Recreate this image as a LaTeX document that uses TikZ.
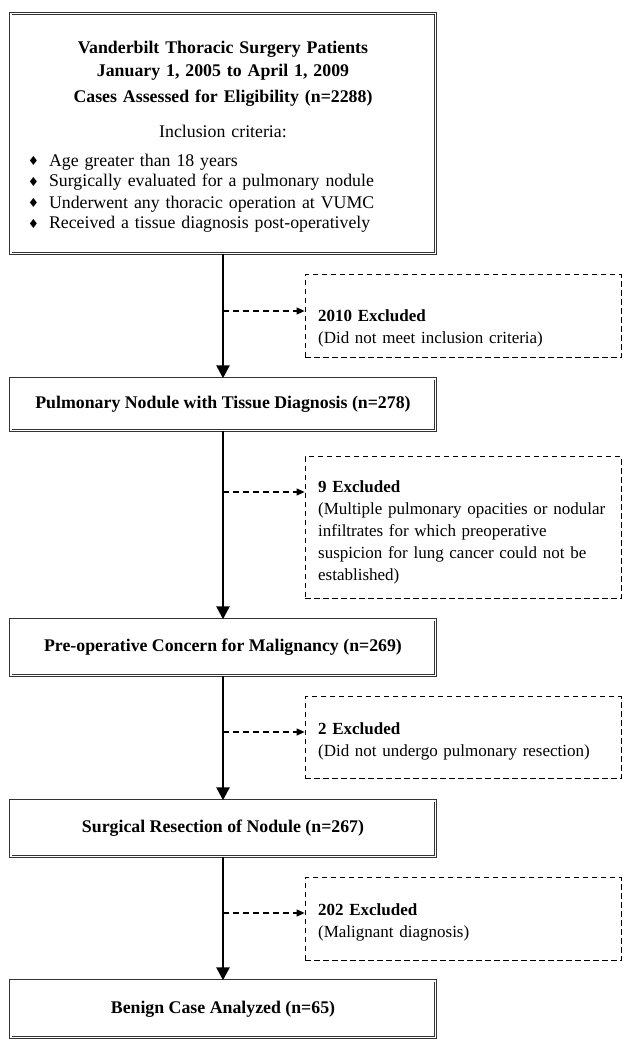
\documentclass[tikz,border=0pt]{standalone}
\usepackage{fontspec}
\setmainfont{Liberation Serif}
\newfontfamily\symbfont{DejaVu Sans}
\usetikzlibrary{arrows.meta}

\begin{document}
\begin{tikzpicture}[x = 1pt, y = -1pt,
    mainbox/.style = {draw = black!80, line width = 0.7pt, double, double distance = 1.8pt,
                      minimum width = 424.8pt, inner sep = 0pt, font = \fontsize{17.8}{21}\selectfont\bfseries},
    exbox/.style = {draw, dash pattern = on 5.5pt off 3.5pt, line width = 1.1pt, anchor = base west,
                    align = left, text width = 290pt, inner xsep = 13pt, inner ysep = 0pt,
                    font = \fontsize{17}{22}\selectfont},
    mainarrow/.style = {line width = 2.7pt, -{Triangle[width = 13pt, length = 13pt]}},
    exarrow/.style = {line width = 1.1pt, dash pattern = on 6pt off 4pt, -{Triangle[width = 7pt, length = 8pt]}}]
  \useasboundingbox (0, 0) rectangle (634, 1049);
  \node [mainbox, anchor = base, text width = 400pt, align = center,
         text height = 39.4pt, text depth = 200.4pt] (top) at (223, 53)
    {Vanderbilt Thoracic Surgery Patients\\[2pt]
     January 1, 2005 to April 1, 2009\\[5pt]
     Cases Assessed for Eligibility (n=2288)\\[15pt]
     {\mdseries Inclusion criteria:}\\[7pt]
     \makebox[400pt][l]{\mdseries\hspace{5pt}\begin{tabular}[t]{@{}l@{}l@{}}
       \makebox[21pt][l]{\raisebox{0.5pt}{\symbfont\fontsize{12.5}{12}\selectfont ♦}} & Age greater than 18 years\\
       \makebox[21pt][l]{\raisebox{0.5pt}{\symbfont\fontsize{12.5}{12}\selectfont ♦}} & Surgically evaluated for a pulmonary nodule\\
       \makebox[21pt][l]{\raisebox{0.5pt}{\symbfont\fontsize{12.5}{12}\selectfont ♦}} & Underwent any thoracic operation at VUMC\\
       \makebox[21pt][l]{\raisebox{0.5pt}{\symbfont\fontsize{12.5}{12}\selectfont ♦}} & Received a tissue diagnosis post-operatively
     \end{tabular}}};
  \node [mainbox, minimum height = 51.8pt] (pulm) at (223, 404.5) {Pulmonary Nodule with Tissue Diagnosis (n=278)};
  \node [mainbox, minimum height = 55.8pt] (preop) at (223, 647.5) {Pre-operative Concern for Malignancy (n=269)};
  \node [mainbox, minimum height = 55.8pt] (surg) at (223, 828.5) {Surgical Resection of Nodule (n=267)};
  \node [mainbox, minimum height = 56.8pt] (benign) at (223, 1009) {Benign Case Analyzed (n=65)};

  \node [exbox, text height = 46.5pt, text depth = 36.5pt] (ex1) at (304.6, 321)
    {\textbf{2010 Excluded}\\(Did not meet inclusion criteria)};
  \node [exbox, text height = 35.5pt, text depth = 106.5pt] (ex2) at (304.6, 492)
    {\textbf{9 Excluded}\\(Multiple pulmonary opacities or nodular\\infiltrates for which preoperative\\suspicion for lung cancer could not be\\established)};
  \node [exbox, text height = 37.5pt, text depth = 44.5pt] (ex3) at (304.6, 734)
    {\textbf{2 Excluded}\\(Did not undergo pulmonary resection)};
  \node [exbox, text height = 37.5pt, text depth = 45.5pt] (ex4) at (304.6, 915)
    {\textbf{202 Excluded}\\(Malignant diagnosis)};

  \draw [mainarrow] (top) -- (pulm);
  \draw [mainarrow] (pulm) -- (preop);
  \draw [mainarrow] (preop) -- (surg);
  \draw [mainarrow] (surg) -- (benign);

  \coordinate (j1) at (223, 311);
  \coordinate (j2) at (223, 492);
  \coordinate (j3) at (223, 732);
  \coordinate (j4) at (223, 913);
  \draw [exarrow] (j1) -- (j1 -| ex1.west);
  \draw [exarrow] (j2) -- (j2 -| ex2.west);
  \draw [exarrow] (j3) -- (j3 -| ex3.west);
  \draw [exarrow] (j4) -- (j4 -| ex4.west);
\end{tikzpicture}
\end{document}
